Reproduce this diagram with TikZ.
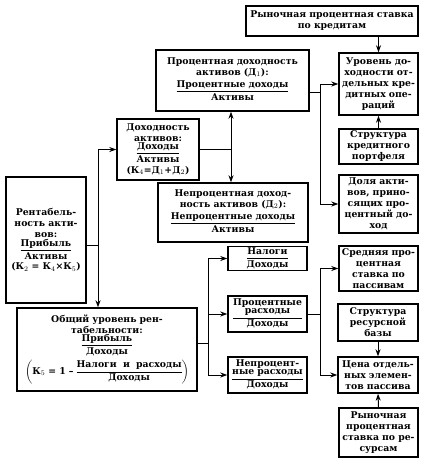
\documentclass[tikz,border=0pt]{standalone}
\usepackage{fontspec}
\setmainfont{DejaVu Serif}
\usetikzlibrary{arrows.meta}
\setlength{\arrayrulewidth}{0.7pt}
\newcommand\fr[2]{{\renewcommand\arraystretch{0.8}\begin{tabular}{@{}c@{}}#1\\[1pt]\hline\rule{0pt}{8.7pt}#2\end{tabular}}}
\tikzset{
  box/.style={draw, line width=1.4pt, inner sep=1pt, align=center, font=\fontsize{9.3}{11}\selectfont\bfseries},
  arr/.style={line width=1pt, -{Stealth[length=7pt,width=5pt]}},
  ln/.style={line width=1pt}
}
\begin{document}
\begin{tikzpicture}[x=1pt,y=-1pt]
\useasboundingbox (0,0) rectangle (428,464);
\fill[white] (0,0) rectangle (428,464);

\node[box, minimum width=172pt, minimum height=30pt, text width=168pt] (rk) at (332,21) {Рыночная процентная ставка\\по кредитам};
\node[box, minimum width=153pt, minimum height=61pt, text width=149pt] (d1) at (232.5,80.5) {Процентная доходность\\активов (Д$_1$):\\[3pt]\fr{Процентные доходы}{Активы}};
\node[box, minimum width=79pt, minimum height=62pt, text width=77pt] (ur) at (378.5,84) {Уровень до-\\ходности от-\\дельных кре-\\дитных опе-\\раций};
\node[box, minimum width=79pt, minimum height=35pt, text width=77pt] (sk) at (378.5,146.5) {Структура\\кредитного\\портфеля};
\node[box, minimum width=79pt, minimum height=58pt, text width=77pt] (dol) at (378.5,204) {Доля акти-\\вов, прино-\\сящих про-\\центный до-\\ход};
\node[box, minimum width=82pt, minimum height=61pt, text width=80pt] (dh) at (158,149.5) {Доходность\\активов:\\\fr{Доходы}{Активы}\\(К$_4$=Д$_1$+Д$_2$)};
\node[box, minimum width=150pt, minimum height=59pt, text width=148pt] (d2) at (233,212.5) {Непроцентная доход-\\ность активов (Д$_2$):\\[3pt]\fr{Непроцентные доходы}{Активы}};
\node[box, minimum width=80pt, minimum height=126pt, text width=78pt] (rent) at (46,240) {Рентабель-\\ность акти-\\вов:\\\fr{Прибыль}{Активы}\\(К$_2$ = К$_4$×К$_5$)};
\node[box, minimum width=180pt, minimum height=83pt, text width=178pt] (ob) at (107,349.5) {Общий уровень рен-\\табельности:\\\fr{Прибыль}{Доходы}\\[2pt]$\left(\mbox{К$_5$ = 1 – \fr{Налоги\ \ и\ \ расходы}{Доходы}}\right)$};
\node[box, minimum width=79pt, minimum height=23pt, text width=77pt] (nal) at (267.5,258.5) {\fr{Налоги}{Доходы}};
\node[box, minimum width=79pt, minimum height=36pt, text width=77pt] (pr) at (267.5,314) {\fr{Процентные\\расходы}{Доходы}};
\node[box, minimum width=79pt, minimum height=36pt, text width=77pt] (npr) at (267.5,375) {\fr{Непроцент-\\ные расходы}{Доходы}};
\node[box, minimum width=79pt, minimum height=45pt, text width=77pt] (sr) at (378.5,268.5) {Средняя про-\\центная\\ставка по\\пассивам};
\node[box, minimum width=80pt, minimum height=37pt, text width=78pt] (srb) at (378,322.5) {Структура\\ресурсной\\базы};
\node[box, minimum width=80pt, minimum height=36pt, text width=78pt] (cena) at (378,375) {Цена отдель-\\ных элемен-\\тов пассива};
\node[box, minimum width=79pt, minimum height=49pt, text width=77pt] (rr) at (378.5,432.5) {Рыночная\\процентная\\ставка по ре-\\сурсам};

\coordinate (b1) at (320,92);
\coordinate (b2) at (231,149.5);
\coordinate (b3) at (98,245);
\coordinate (b4) at (208,343);
\coordinate (b5) at (320,314);

\draw[arr] (rk.south -| ur.north) -- (ur.north);
\draw[arr] (sk.north) -- (ur.south);
\draw[ln] (d1.east |- b1) -- (b1);
\draw[arr] (b1) |- (ur.west);
\draw[arr] (b1) |- (dol.west);
\draw[ln] (dh.east) -- (b2);
\draw[arr] (b2) -- (b2 |- d1.south);
\draw[arr] (b2) -- (b2 |- d2.north);
\draw[ln] (rent.east |- b3) -- (b3);
\draw[arr] (b3) |- (dh.west);
\draw[arr] (b3) -- (b3 |- ob.north);
\draw[ln] (ob.east |- b4) -- (b4);
\draw[arr] (b4) |- (nal.west);
\draw[arr] (b4) |- (pr.west);
\draw[arr] (b4) |- (npr.west);
\draw[ln] (pr.east) -- (b5);
\draw[arr] (b5) |- (sr.west);
\draw[arr] (b5) |- (cena.west);
\draw[arr] (srb.south) -- (cena.north);
\draw[arr] (rr.north) -- (cena.south);
\end{tikzpicture}
\end{document}
